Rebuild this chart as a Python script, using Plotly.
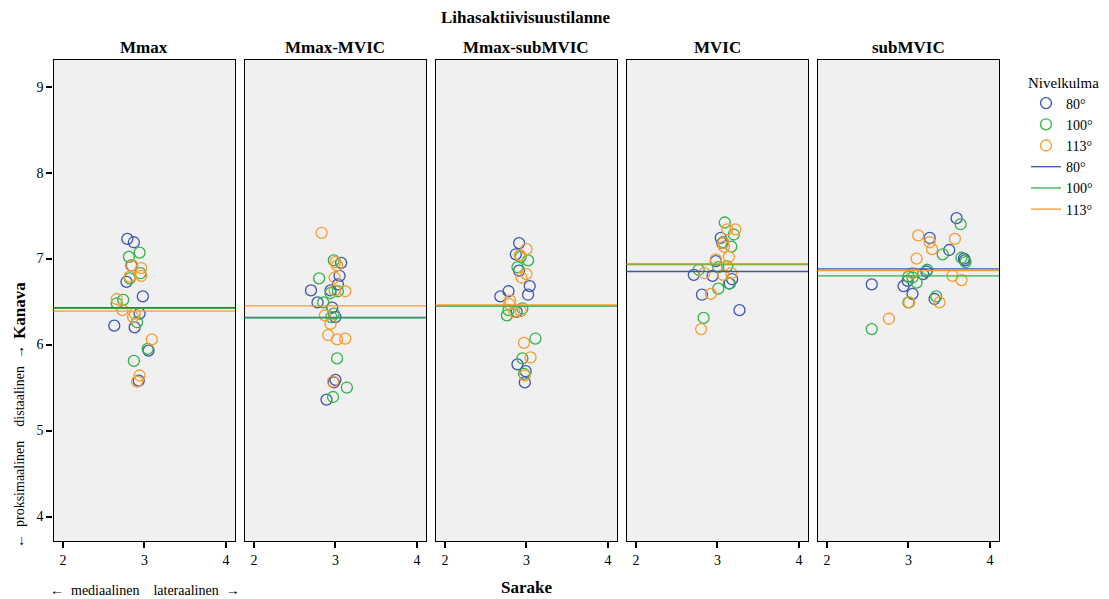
import plotly.graph_objects as go

# Muscle activation conditions (facets) and joint angles (series)
panels = ["Mmax", "Mmax-MVIC", "Mmax-subMVIC", "MVIC", "subMVIC"]
angles = ["80°", "100°", "113°"]
colors = ["#3d55ae", "#2fb544", "#f99b2c"]

# Sarake (column) and Kanava (channel) per facet, joint angle 80°
sarake_80 = [
    [2.79, 2.87, 2.84, 2.78, 2.98, 2.63, 2.88, 2.94, 3.05, 2.93],
    [3.07, 3.05, 3.03, 2.70, 2.94, 2.78, 2.96, 3.00, 3.00, 2.98, 2.89],
    [2.91, 2.87, 2.91, 3.04, 3.02, 2.78, 2.68, 2.88, 2.89, 2.99, 2.98],
    [3.04, 3.06, 2.98, 2.71, 2.94, 3.18, 3.15, 2.81, 3.27],
    [3.59, 3.26, 3.50, 3.68, 3.69, 3.22, 3.18, 2.99, 2.94, 2.55, 3.05, 3.32],
]
kanava_80 = [
    [7.23, 7.19, 6.92, 6.73, 6.56, 6.22, 6.20, 6.36, 5.93, 5.58],
    [6.95, 6.80, 6.70, 6.63, 6.63, 6.49, 6.43, 6.32, 5.59, 5.56, 5.36],
    [7.18, 7.05, 6.86, 6.68, 6.58, 6.62, 6.56, 6.38, 5.77, 5.69, 5.56],
    [7.24, 7.18, 6.97, 6.81, 6.80, 6.76, 6.71, 6.58, 6.40],
    [7.47, 7.24, 7.10, 7.00, 6.98, 6.85, 6.82, 6.74, 6.68, 6.70, 6.59, 6.53],
]

# Joint angle 100°
sarake_100 = [
    [2.94, 2.81, 2.95, 2.82, 2.74, 2.66, 2.91, 3.04, 2.87],
    [2.98, 2.80, 2.94, 3.03, 2.85, 2.98, 2.95, 3.02, 3.14, 2.97],
    [2.93, 3.02, 2.89, 2.95, 2.78, 2.76, 3.11, 2.95, 2.97],
    [3.09, 3.20, 3.07, 3.17, 2.77, 3.01, 3.12, 3.14, 3.01, 2.83],
    [3.64, 3.42, 3.65, 3.70, 3.23, 3.00, 3.05, 3.10, 3.34, 3.00, 2.55],
]
kanava_100 = [
    [7.07, 7.02, 6.83, 6.77, 6.52, 6.48, 6.26, 5.95, 5.81],
    [6.98, 6.77, 6.60, 6.62, 6.49, 6.36, 6.32, 5.84, 5.50, 5.39],
    [7.02, 6.98, 6.90, 6.42, 6.40, 6.34, 6.07, 5.84, 5.66],
    [7.42, 7.28, 7.19, 7.14, 6.87, 6.90, 6.91, 6.71, 6.65, 6.31],
    [7.40, 7.05, 7.01, 6.96, 6.87, 6.79, 6.78, 6.72, 6.56, 6.49, 6.18],
]

# Joint angle 113°
sarake_113 = [
    [2.85, 2.96, 2.82, 2.96, 2.66, 2.73, 2.88, 2.86, 3.09, 2.94, 2.91],
    [2.83, 3.00, 3.02, 2.99, 3.12, 2.99, 2.87, 2.94, 2.91, 3.02, 3.12, 2.97],
    [3.00, 2.92, 3.00, 2.94, 2.80, 2.79, 2.85, 2.93, 2.97, 3.05, 2.98],
    [3.12, 3.22, 3.08, 3.07, 3.14, 2.98, 2.84, 3.07, 3.17, 2.92, 2.80],
    [3.12, 3.57, 3.26, 3.29, 3.10, 3.05, 3.54, 3.65, 3.01, 3.38, 2.76],
]
kanava_113 = [
    [6.92, 6.89, 6.79, 6.80, 6.53, 6.40, 6.36, 6.32, 6.06, 5.64, 5.57],
    [7.30, 6.96, 6.92, 6.78, 6.62, 6.63, 6.34, 6.24, 6.11, 6.06, 6.07, 5.57],
    [7.11, 7.04, 6.82, 6.78, 6.51, 6.47, 6.38, 6.39, 6.02, 5.85, 5.64],
    [7.34, 7.34, 7.14, 7.18, 7.02, 6.99, 6.83, 6.81, 6.83, 6.59, 6.18],
    [7.27, 7.23, 7.19, 7.11, 7.00, 6.83, 6.80, 6.75, 6.49, 6.49, 6.30],
]

# Reference lines (mean Kanava per facet and joint angle)
mean_80 = [6.43, 6.315, 6.45, 6.85, 6.88]
mean_100 = [6.42, 6.31, 6.45, 6.93, 6.80]
mean_113 = [6.39, 6.45, 6.46, 6.94, 6.86]

x_ticks = [2, 3, 4]
y_ticks = [4, 5, 6, 7, 8, 9]

sarake = [sarake_80, sarake_100, sarake_113]
kanava = [kanava_80, kanava_100, kanava_113]
means = [mean_80, mean_100, mean_113]

FONT = "Liberation Serif"
W, H = 1109, 599

# Facet geometry in pixels
panel_left = [53.5, 244.5, 435.5, 626.5, 817.5]
panel_w = 181.5
plot_top, plot_bottom = 60, 541

fig = go.Figure()

for p in range(len(panels)):
    ax = "" if p == 0 else str(p + 1)
    for a in range(len(angles)):
        fig.add_trace(go.Scatter(
            x=sarake[a][p], y=kanava[a][p],
            xaxis="x" + ax, yaxis="y" + ax,
            mode="markers",
            marker=dict(symbol="circle-open", size=11, color=colors[a],
                        line=dict(width=1.3, color=colors[a])),
            name=angles[a], legendgroup="pts" + angles[a],
            showlegend=(p == 0), legendrank=a + 1,
        ))
    for a in range(len(angles)):
        fig.add_shape(
            type="line", xref="x" + ax + " domain", yref="y" + ax,
            x0=0, x1=1, y0=means[a][p], y1=means[a][p],
            line=dict(color=colors[a], width=1.3),
            layer="above",
            name=angles[a], showlegend=(p == 0), legendrank=10 + a,
        )

layout = dict(
    width=W, height=H,
    margin=dict(l=0, r=0, t=0, b=0),
    paper_bgcolor="white",
    plot_bgcolor="#f0f0f0",
    font=dict(family=FONT, size=14, color="black"),
    showlegend=True,
    legend=dict(
        x=1026 / W, y=1 - 68 / H, xanchor="left", yanchor="top",
        title=dict(text="Nivelkulma", side="top", font=dict(size=15)),
        font=dict(size=14), tracegroupgap=0, itemwidth=30,
        bgcolor="rgba(0,0,0,0)",
    ),
)

for p in range(len(panels)):
    ax = "" if p == 0 else str(p + 1)
    x0 = panel_left[p] / W
    x1 = (panel_left[p] + panel_w) / W
    layout["xaxis" + ax] = dict(
        domain=[x0, x1], range=[1.885, 4.11], anchor="y" + ax,
        tickvals=x_ticks, ticks="outside", ticklen=6, tickwidth=1.5, tickcolor="black",
        showgrid=False, zeroline=False,
        showline=True, linecolor="black", linewidth=1.3, mirror=True,
        tickfont=dict(size=14),
    )
    layout["yaxis" + ax] = dict(
        domain=[1 - plot_bottom / H, 1 - plot_top / H], range=[3.715, 9.31],
        anchor="x" + ax,
        tickvals=y_ticks, ticks="outside" if p == 0 else "", ticklen=6,
        tickwidth=1.5, tickcolor="black",
        showticklabels=(p == 0),
        showgrid=False, zeroline=False,
        showline=True, linecolor="black", linewidth=1.3, mirror=True,
        tickfont=dict(size=14),
    )

fig.update_layout(**layout)

annotations = []
for p, name in enumerate(panels):
    annotations.append(dict(
        text="<b>%s</b>" % name, xref="paper", yref="paper",
        x=(panel_left[p] + panel_w / 2) / W, y=1 - 47 / H,
        showarrow=False, font=dict(size=17), xanchor="center", yanchor="middle",
    ))

annotations += [
    dict(text="<b>Lihasaktiivisuustilanne</b>", xref="paper", yref="paper",
         x=526 / W, y=1 - 18 / H, showarrow=False, font=dict(size=17),
         xanchor="center", yanchor="middle"),
    dict(text="<b>Sarake</b>", xref="paper", yref="paper",
         x=526 / W, y=1 - 587 / H, showarrow=False, font=dict(size=17),
         xanchor="center", yanchor="middle"),
    dict(text="←  mediaalinen    lateraalinen  →", xref="paper", yref="paper",
         x=145 / W, y=1 - 590 / H, showarrow=False, font=dict(size=14),
         xanchor="center", yanchor="middle"),
    dict(text="<b>Kanava</b>", xref="paper", yref="paper",
         x=19 / W, y=1 - 311 / H, showarrow=False, font=dict(size=17),
         textangle=-90, xanchor="center", yanchor="middle"),
    dict(text="←  proksimaalinen    distaalinen  →", xref="paper", yref="paper",
         x=19 / W, y=1 - 447 / H, showarrow=False, font=dict(size=14),
         textangle=-90, xanchor="center", yanchor="middle"),
]
fig.update_layout(annotations=annotations)

fig.write_html("out.html")
